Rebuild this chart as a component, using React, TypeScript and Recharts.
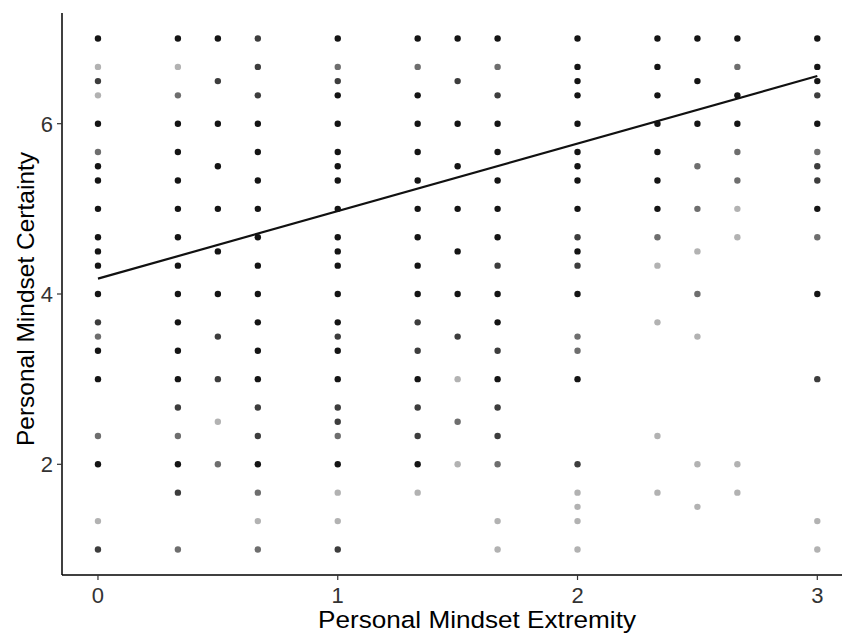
import { ScatterChart, Scatter, XAxis, YAxis } from 'recharts'

// x positions of the answer columns (extremity scores)
const xLevels = [0, 1 / 3, 0.5, 2 / 3, 1, 4 / 3, 1.5, 5 / 3, 2, 7 / 3, 2.5, 8 / 3, 3]

// each column: [certainty, shade] where shade 4 = many overlapping points, 1 = single point
const col0 = [[7, 4], [6.667, 1], [6.5, 3], [6.333, 1], [6, 4], [5.667, 2], [5.5, 4], [5.333, 4], [5, 4], [4.667, 4], [4.5, 4], [4.333, 4], [4, 4], [3.667, 3], [3.5, 2], [3.333, 4], [3, 4], [2.333, 2], [2, 4], [1.333, 1], [1, 3]]
const col1 = [[7, 4], [6.667, 1], [6.333, 2], [6, 4], [5.667, 4], [5.333, 4], [5, 4], [4.667, 4], [4.333, 4], [4, 4], [3.667, 4], [3.333, 4], [3, 4], [2.667, 3], [2.333, 2], [2, 4], [1.667, 3], [1, 2]]
const col2 = [[7, 4], [6.5, 3], [6, 4], [5.5, 4], [5, 4], [4.5, 4], [4, 4], [3.5, 3], [3, 3], [2.5, 1], [2, 2]]
const col3 = [[7, 3], [6.667, 3], [6.333, 3], [6, 4], [5.667, 4], [5.333, 4], [5, 4], [4.667, 4], [4.333, 4], [4, 4], [3.667, 4], [3.333, 4], [3, 4], [2.667, 3], [2.333, 3], [2, 4], [1.667, 2], [1.333, 1], [1, 2]]
const col4 = [[7, 4], [6.667, 2], [6.5, 3], [6.333, 4], [6, 4], [5.667, 4], [5.5, 4], [5.333, 4], [5, 4], [4.667, 4], [4.5, 4], [4.333, 4], [4, 4], [3.667, 4], [3.5, 3], [3.333, 4], [3, 4], [2.667, 3], [2.5, 3], [2.333, 2], [2, 4], [1.667, 1], [1.333, 1], [1, 3]]
const col5 = [[7, 4], [6.667, 2], [6.333, 4], [6, 4], [5.667, 4], [5.333, 4], [5, 4], [4.667, 4], [4.333, 4], [4, 4], [3.667, 3], [3.333, 3], [3, 4], [2.667, 3], [2.333, 3], [2, 4], [1.667, 1]]
const col6 = [[7, 4], [6.5, 3], [6, 4], [5.5, 4], [5, 4], [4.5, 4], [4, 4], [3.5, 3], [3, 1], [2.5, 2], [2, 1]]
const col7 = [[7, 4], [6.667, 2], [6.333, 3], [6, 4], [5.667, 4], [5.333, 4], [5, 4], [4.667, 4], [4.333, 3], [4, 4], [3.667, 4], [3.333, 3], [3, 4], [2.667, 3], [2.333, 3], [2, 2], [1.333, 1], [1, 1]]
const col8 = [[7, 4], [6.667, 4], [6.5, 4], [6.333, 4], [6, 4], [5.667, 4], [5.5, 4], [5.333, 4], [5, 4], [4.667, 3], [4.5, 4], [4.333, 3], [4, 4], [3.5, 2], [3.333, 2], [3, 4], [2, 3], [1.667, 1], [1.5, 1], [1.333, 1], [1, 1]]
const col9 = [[7, 4], [6.667, 4], [6.333, 4], [6, 4], [5.667, 4], [5.333, 4], [5, 4], [4.667, 2], [4.333, 1], [3.667, 1], [2.333, 1], [1.667, 1]]
const col10 = [[7, 4], [6.5, 4], [6, 4], [5.5, 2], [5, 2], [4.5, 1], [4, 2], [3.5, 1], [2, 1], [1.5, 1]]
const col11 = [[7, 4], [6.667, 2], [6.333, 4], [6, 4], [5.667, 2], [5.333, 2], [5, 1], [4.667, 1], [2, 1], [1.667, 1]]
const col12 = [[7, 4], [6.667, 4], [6.5, 4], [6.333, 3], [6, 4], [5.667, 2], [5.5, 3], [5.333, 3], [5, 4], [4.667, 2], [4, 4], [3, 3], [1.333, 1], [1, 1]]

const columns = [col0, col1, col2, col3, col4, col5, col6, col7, col8, col9, col10, col11, col12]

// fitted regression line end points
const fitX = [0, 3]
const fitY = [4.18, 6.56]

const xTicks = [0, 1, 2, 3]
const yTicks = [2, 4, 6]

const shadeColor: Record<number, string> = { 1: '#b2b2b2', 2: '#6e6e6e', 3: '#3d3d3d', 4: '#141414' }

const points = columns.flatMap((col, i) => col.map(([y, s]) => ({ x: xLevels[i], y, s })))
const fitLine = fitX.map((x, i) => ({ x, y: fitY[i] }))

const font = 'Liberation Sans, Arial, sans-serif'

const Dot = (props: any) => {
    if (props.cx == null || props.cy == null) return null
    return <circle cx={props.cx} cy={props.cy} r={3.2} fill={shadeColor[props.payload.s]} />
}

const YTitle = () => (
    <text
        transform="translate(34, 299) rotate(-90)"
        textAnchor="middle"
        fontSize={24.5}
        fontFamily={font}
        fill="#000"
    >
        Personal Mindset Certainty
    </text>
)

const XTitle = () => (
    <text
        x={477}
        y={628}
        textAnchor="middle"
        fontSize={24.5}
        fontFamily={font}
        fill="#000"
        textLength={318}
        lengthAdjust="spacingAndGlyphs"
    >
        Personal Mindset Extremity
    </text>
)

export default function App() {
    return (
        <div style={{ position: 'absolute', left: 0, top: 0, background: '#fff', fontFamily: font }}>
            <ScatterChart width={842} height={635} margin={{ top: 13, right: 0, bottom: 0, left: 0 }}>
                <XAxis
                    type="number"
                    dataKey="x"
                    domain={[-0.15, 3.103]}
                    ticks={xTicks}
                    allowDataOverflow
                    height={60}
                    axisLine={{ stroke: '#000', strokeWidth: 1.5 }}
                    tickLine={{ stroke: '#333', strokeWidth: 1.2 }}
                    tickSize={5}
                    tickMargin={7}
                    tick={{ fill: '#333', fontSize: 22, fontFamily: font }}
                    label={{ content: XTitle }}
                />
                <YAxis
                    type="number"
                    dataKey="y"
                    domain={[0.7, 7.3]}
                    ticks={yTicks}
                    allowDataOverflow
                    width={62}
                    axisLine={{ stroke: '#000', strokeWidth: 1.5 }}
                    tickLine={{ stroke: '#333', strokeWidth: 1.2 }}
                    tickSize={5}
                    tickMargin={4}
                    tick={{ fill: '#333', fontSize: 22, fontFamily: font }}
                    label={{ content: YTitle }}
                />
                <Scatter data={points} shape={Dot} isAnimationActive={false} />
                <Scatter
                    data={fitLine}
                    line={{ stroke: '#111', strokeWidth: 2.2 }}
                    lineType="joint"
                    shape={() => <g />}
                    isAnimationActive={false}
                />
            </ScatterChart>
        </div>
    )
}
